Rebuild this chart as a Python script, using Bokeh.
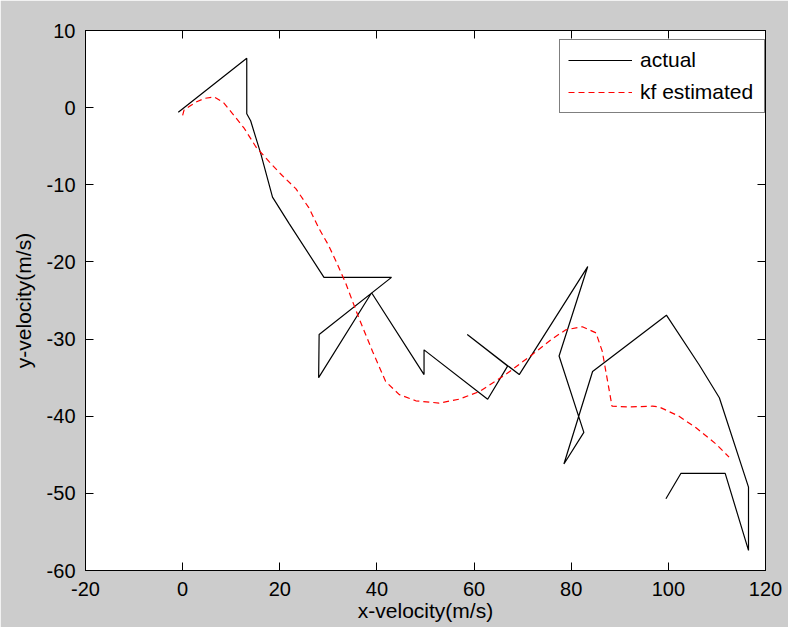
from bokeh.plotting import figure
from bokeh.models import LinearAxis, Range1d, FixedTicker, Legend, LegendItem
from bokeh.embed import file_html
from bokeh.resources import INLINE

# ---- data ----
actual_vx = [-0.9, 13.2, 13.2, 14.0, 16.1, 18.5, 21.9, 29.1, 43.0, 28.1, 28.0, 38.9,
             49.7, 49.7, 62.8, 66.9, 58.6, 69.3, 83.4, 77.5, 82.6, 78.5, 84.4,
             99.6, 106.3, 110.5, 116.5, 116.5, 111.7, 102.6, 99.5]
actual_vy = [-0.6, 6.4, -0.8, -1.7, -6.0, -11.6, -15.0, -22.0, -22.0, -29.4, -35.0, -24.0,
             -34.6, -31.4, -37.8, -33.5, -29.4, -34.6, -20.6, -32.2, -42.1, -46.2, -34.2,
             -26.9, -33.3, -37.6, -49.2, -57.4, -47.4, -47.4, -50.7]

kf_vx = [0.0, 0.3, 1.5, 2.7, 4.5, 6.5, 8.5, 10.3, 12.7, 15.1, 17.8, 20.5, 23.3, 26.0,
         28.1, 30.0, 31.5, 33.6, 36.3, 39.1, 41.8, 44.6, 48.0, 52.8, 56.9, 61.1, 66.5,
         72.0, 76.0, 78.9, 82.3, 85.1, 86.4, 87.5, 88.4, 92.0, 96.7, 98.1, 102.2, 105.7,
         109.8, 112.5]
kf_vy = [-1.0, -0.3, 0.2, 0.7, 1.2, 1.4, 0.6, -0.8, -2.7, -5.1, -7.0, -8.8, -10.5, -13.0,
         -15.7, -17.8, -19.8, -22.8, -27.3, -31.6, -35.5, -37.2, -38.0, -38.3, -37.8, -36.8,
         -34.6, -32.0, -30.0, -28.8, -28.4, -29.2, -31.6, -35.5, -38.7, -38.8, -38.7, -38.8,
         -40.0, -41.5, -43.6, -45.3]

x_ticks = [-20, 0, 20, 40, 60, 80, 100, 120]
x_tick_labels = ["-20", "0", "20", "40", "60", "80", "100", "120"]
y_ticks = [-60, -50, -40, -30, -20, -10, 0, 10]
y_tick_labels = ["-60", "-50", "-40", "-30", "-20", "-10", "0", "10"]

FONT = "Liberation Sans"

p = figure(width=788, height=627, output_backend="svg", toolbar_location=None,
           x_range=Range1d(-20, 120), y_range=Range1d(-60, 10),
           min_border_left=85, min_border_right=23, min_border_top=30, min_border_bottom=57,
           x_axis_label="x-velocity(m/s)", y_axis_label="y-velocity(m/s)")

p.background_fill_color = "white"
p.border_fill_color = "#cccccc"
p.outline_line_color = "black"
p.outline_line_width = 1
p.xgrid.visible = False
p.ygrid.visible = False

r1 = p.line(actual_vx, actual_vy, line_color="black", line_width=1.2)
r2 = p.line(kf_vx, kf_vy, line_color="#ff0000", line_width=1.2, line_dash="6 4")

def style_axis(ax, show_labels=True):
    ax.axis_line_color = "black"
    ax.major_tick_line_color = "black"
    ax.major_tick_in = 8
    ax.major_tick_out = 0
    ax.minor_tick_line_color = None
    ax.major_label_text_font = FONT
    ax.major_label_text_font_size = "20px" if show_labels else "0px"
    ax.major_label_text_color = "black"
    ax.axis_label_text_font = FONT
    ax.axis_label_text_font_size = "21px"
    ax.axis_label_text_font_style = "normal"
    ax.axis_label_text_color = "black"

xa = p.xaxis[0]
ya = p.yaxis[0]
xa.ticker = FixedTicker(ticks=x_ticks)
ya.ticker = FixedTicker(ticks=y_ticks)
xa.major_label_overrides = dict(zip(x_ticks, x_tick_labels))
ya.major_label_overrides = dict(zip(y_ticks, y_tick_labels))
style_axis(xa)
style_axis(ya)
xa.major_label_standoff = 11
xa.axis_label_standoff = 0
ya.major_label_standoff = 10
ya.axis_label_standoff = 9

top = LinearAxis(ticker=FixedTicker(ticks=x_ticks))
style_axis(top, False)
top.major_label_standoff = 0
right = LinearAxis(ticker=FixedTicker(ticks=y_ticks))
style_axis(right, False)
right.major_label_standoff = 0
p.add_layout(top, "above")
p.add_layout(right, "right")

legend = Legend(items=[LegendItem(label="actual", renderers=[r1]),
                       LegendItem(label="kf estimated", renderers=[r2])],
                location=(474, 457))
legend.label_text_font = FONT
legend.label_text_font_size = "21px"
legend.label_text_color = "black"
legend.border_line_color = "black"
legend.border_line_width = 1
legend.background_fill_color = "white"
legend.background_fill_alpha = 1.0
legend.glyph_width = 64
legend.glyph_height = 20
legend.label_height = 20
legend.label_width = 116
legend.label_standoff = 8
legend.spacing = 8
legend.padding = 8
legend.margin = 0
p.add_layout(legend, "center")

open("out.html", "w").write(file_html(p, INLINE))
